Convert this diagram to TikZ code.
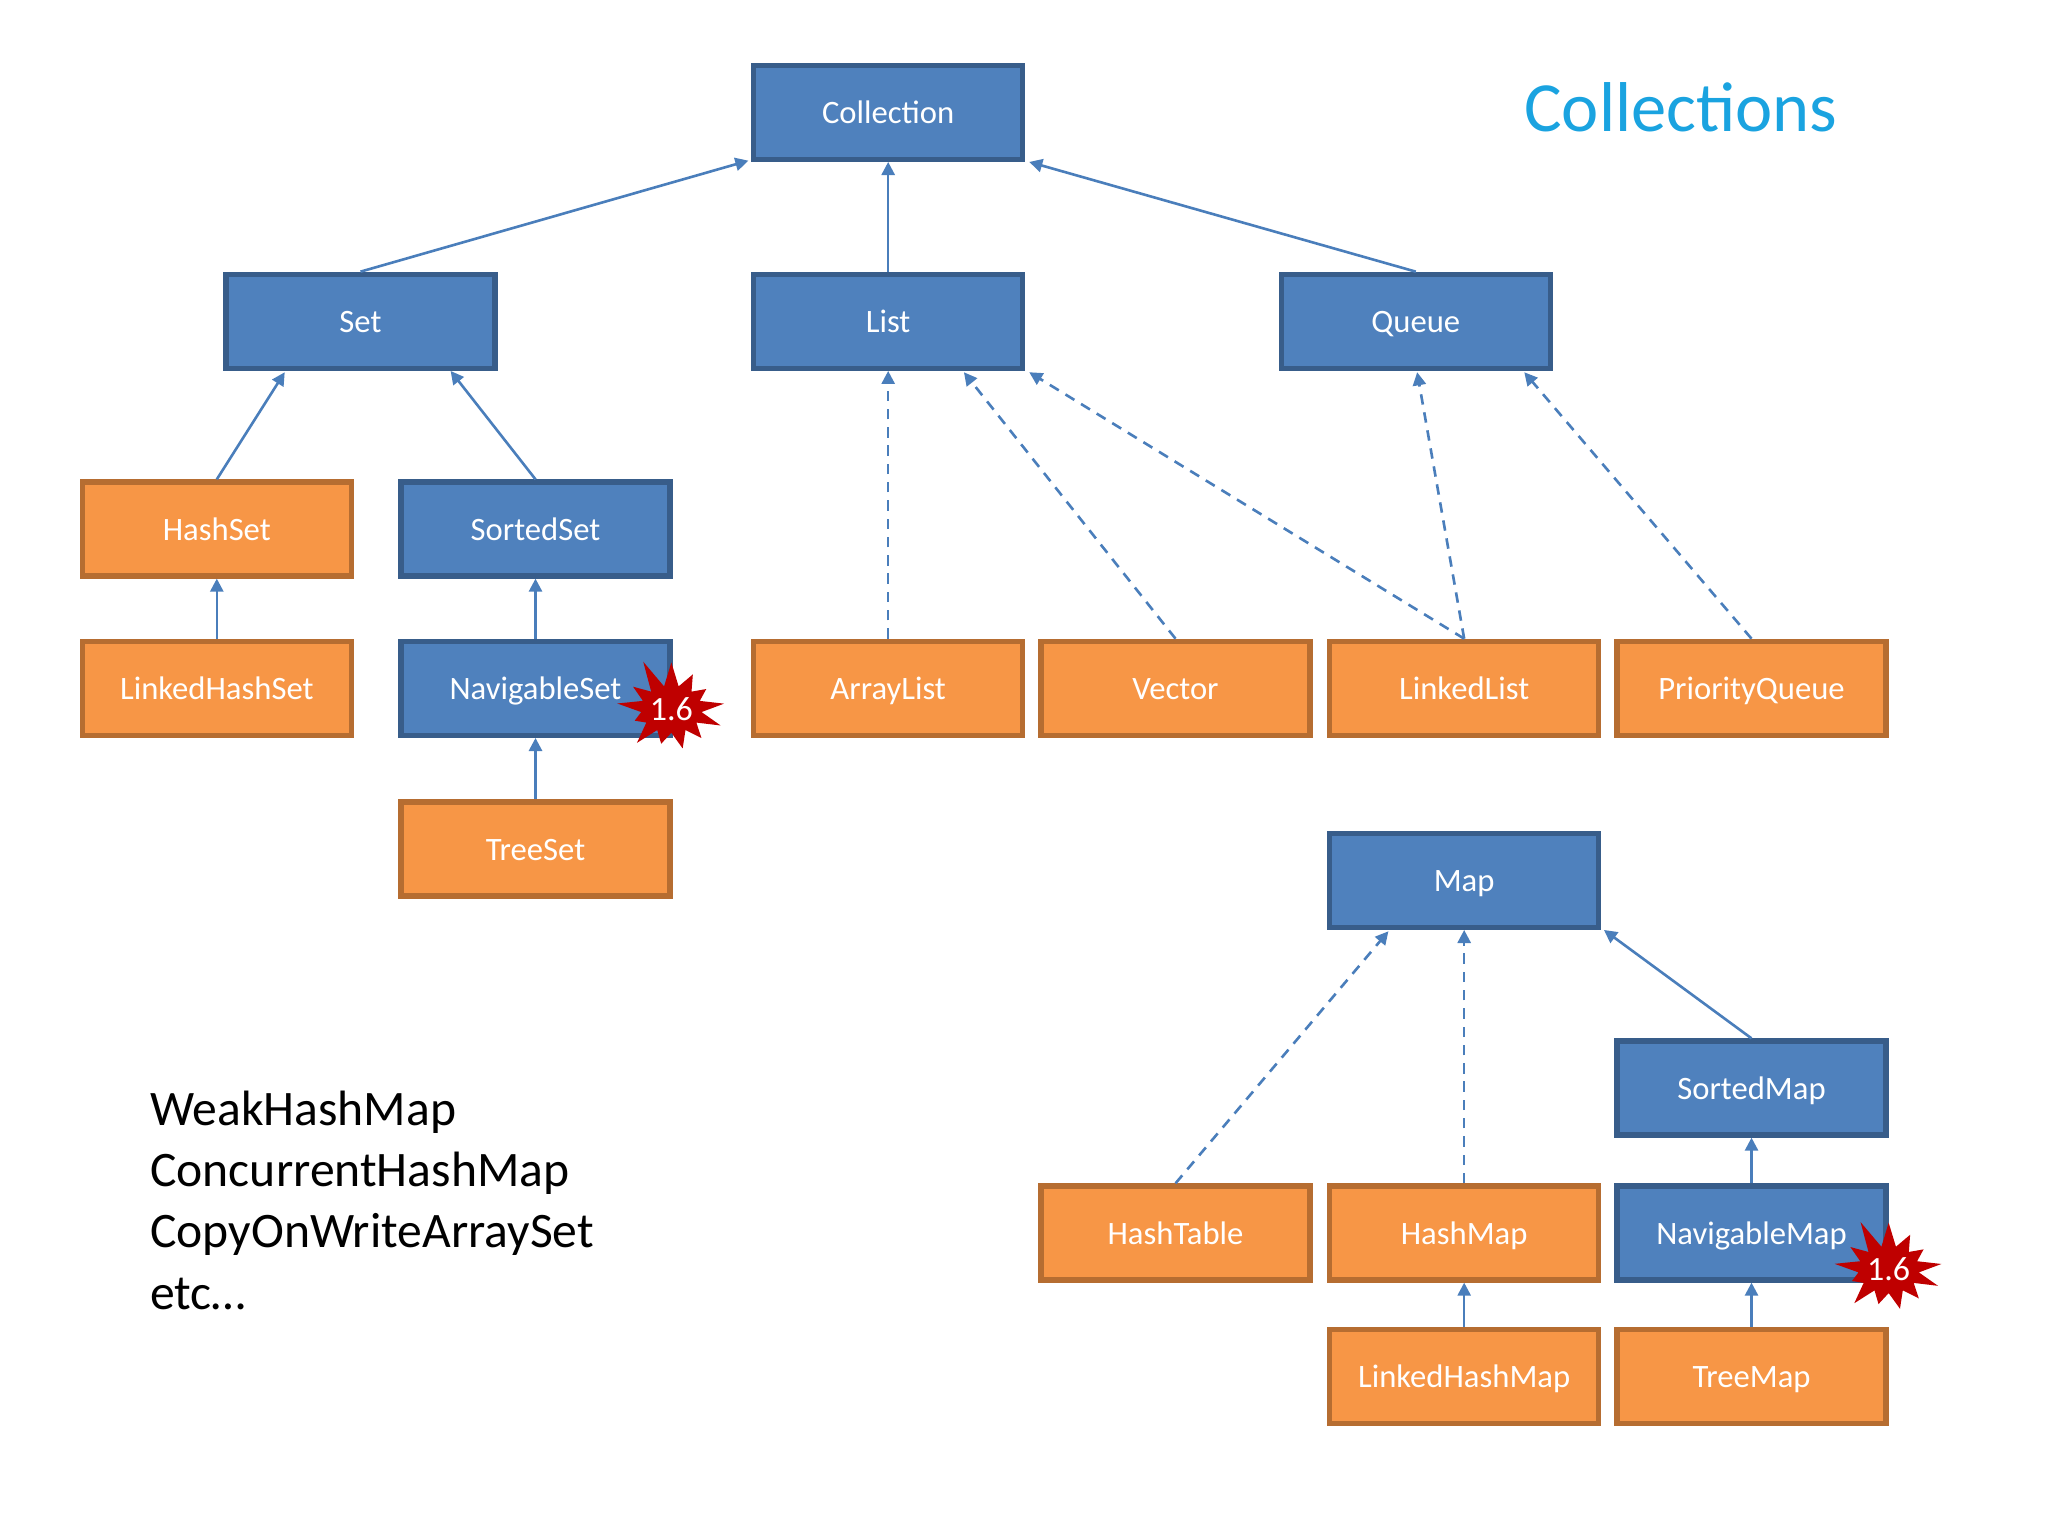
\documentclass[tikz,border=0pt]{standalone}
\usepackage{fontspec}
\setmainfont{Carlito}
\usetikzlibrary{shapes.symbols,arrows.meta}
\definecolor{bf}{HTML}{4F81BD}\definecolor{bd}{HTML}{385D8A}
\definecolor{of}{HTML}{F79646}\definecolor{od}{HTML}{B66D31}
\definecolor{ln}{HTML}{4A7EBB}\definecolor{tt}{HTML}{1AA3E0}
\begin{document}
\begin{tikzpicture}[x=0.5pt,y=-0.5pt,
 box/.style={draw,line width=2pt,minimum width=103pt,minimum height=36pt,inner sep=0pt,text=white,font=\fontsize{12.5}{14}\selectfont,text height=1.9ex,text depth=0.1ex},
 bl/.style={box,fill=bf,draw=bd}, or/.style={box,fill=of,draw=od},
 e/.style={draw=ln,line width=1pt,-{Triangle[width=5pt,length=5pt]}},
 d/.style={e,dash pattern=on 4pt off 3pt},
 st/.style={starburst,starburst points=13,starburst point height=12pt,minimum size=42pt,fill=red!75!black,draw=none,text=white,inner sep=0pt,font=\fontsize{13}{14}\selectfont,random starburst=11}]
\useasboundingbox (0,0) rectangle (1568,1176);
\node[bl] (coll) at (680,86) {Collection};
\node[bl] (set) at (276,246) {Set};
\node[bl] (list) at (680,246) {List};
\node[bl] (queue) at (1084,246) {Queue};
\node[or] (hs) at (166,405) {HashSet};
\node[bl] (ss) at (410,405) {SortedSet};
\node[or] (lhs) at (166,527) {LinkedHashSet};
\node[bl] (ns) at (410,527) {NavigableSet};
\node[or] (al) at (680,527) {ArrayList};
\node[or] (vec) at (900,527) {Vector};
\node[or] (ll) at (1121,527) {LinkedList};
\node[or] (pq) at (1341,527) {PriorityQueue};
\node[or] (ts) at (410,650) {TreeSet};
\node[bl] (map) at (1121,674) {Map};
\node[bl] (sm) at (1341,833) {SortedMap};
\node[or] (ht) at (900,944) {HashTable};
\node[or] (hm) at (1121,944) {HashMap};
\node[bl] (nm) at (1341,944) {NavigableMap};
\node[or] (lhm) at (1121,1054) {LinkedHashMap};
\node[or] (tm) at (1341,1054) {TreeMap};
\node[text=tt,font=\fontsize{27}{30}\selectfont] (title) at (1287,82) {Collections};
\node[anchor=north west,align=left,font=\fontsize{19}{23.5}\selectfont] (misc) at (108,828) {WeakHashMap\\ConcurrentHashMap\\CopyOnWriteArraySet\\etc…};
\coordinate (c1) at (573,123); \coordinate (c2) at (788,124);
\path[e] (set.north) -- (c1);
\path[e] (list) -- (coll);
\path[e] (queue.north) -- (c2);
\coordinate (sA) at (218,285); \coordinate (sB) at (345,284);
\path[e] (hs.north) -- (sA);
\path[e] (ss.north) -- (sB);
\path[e] (lhs) -- (hs);
\path[e] (ns) -- (ss);
\path[e] (ts) -- (ns);
\coordinate (lB) at (738,285); \coordinate (lC) at (788,285);
\coordinate (qA) at (1085,285); \coordinate (qB) at (1167,285);
\path[d] (al) -- (list);
\path[d] (vec.north) -- (lB);
\path[d] (ll.north) -- (lC);
\path[d] (ll.north) -- (qA);
\path[d] (pq.north) -- (qB);
\coordinate (mA) at (1063,713); \coordinate (mC) at (1228,712);
\path[d] (ht.north) -- (mA);
\path[d] (hm) -- (map);
\path[e] (sm.north) -- (mC);
\path[e] (nm) -- (sm);
\path[e] (lhm) -- (hm);
\path[e] (tm) -- (nm);
\node[st] (s1) at (514,543) {1.6};
\node[st] (s2) at (1446,972) {1.6};
\end{tikzpicture}
\end{document}
